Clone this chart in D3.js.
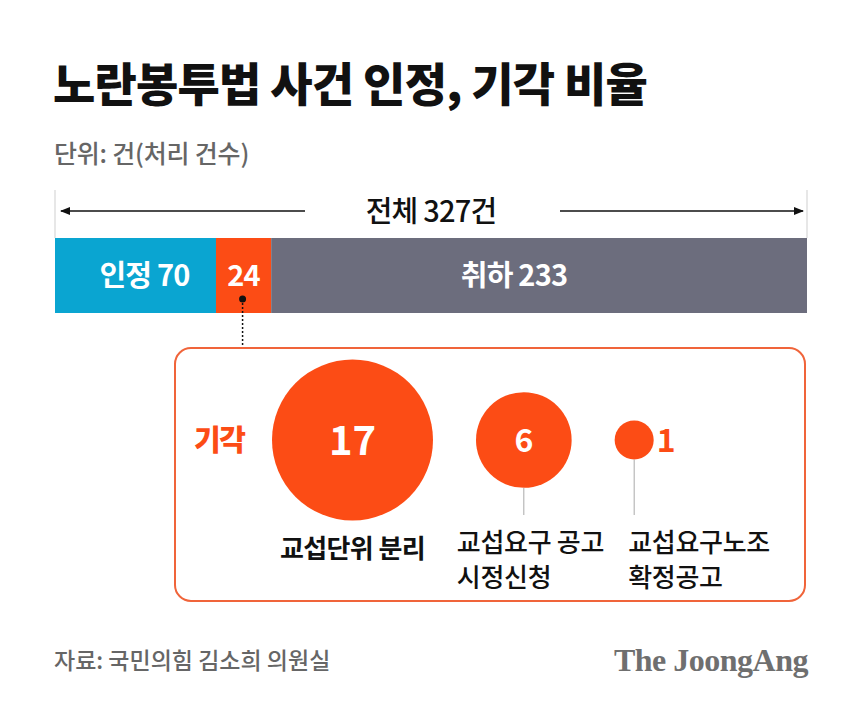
<!DOCTYPE html>
<html>
<head>
<meta charset="utf-8">
<script src="https://cdn.jsdelivr.net/npm/d3@7"></script>
<style>
  body { margin: 0; background: #fff; }
  svg { display: block; font-family: "Noto Sans CJK KR", "Noto Sans", sans-serif; }
</style>
</head>
<body>
<div id="chart"></div>
<script>
// data
const title = "노란봉투법 사건 인정, 기각 비율";
const unitNote = "단위: 건(처리 건수)";
const source = "자료: 국민의힘 김소희 의원실";
const barCategories = ["인정", "", "취하"];
const barValues = [70, 24, 233];
const totalLabel = "전체 327건";
const rejectTitle = "기각";
const rejectValues = [17, 6, 1];
const rejectLabels = [["교섭단위 분리"], ["교섭요구 공고", "시정신청"], ["교섭요구노조", "확정공고"]];

const W = 860, H = 715;
const colors = ["#0aa5d1", "#fc4c15", "#6c6d7d"];
const orange = "#fc4c15";

const svg = d3.select("#chart").append("svg")
    .attr("width", W)
    .attr("height", H);

// title
svg.append("text")
    .attr("x", 53).attr("y", 101)
    .attr("font-size", 46).attr("font-weight", 900)
    .attr("letter-spacing", -0.8)
    .attr("fill", "#111")
    .text(title);

svg.append("text")
    .attr("x", 54).attr("y", 163)
    .attr("font-size", 25).attr("font-weight", 500)
    .attr("letter-spacing", -0.2)
    .attr("fill", "#666")
    .text(unitNote);

// stacked bar
const total = d3.sum(barValues);
const x = d3.scaleLinear().domain([0, total]).range([55, 807]);
const barY = 238, barH = 75;
const stack = barValues.map((v, i) => {
    const start = d3.sum(barValues.slice(0, i));
    return { v, i, x0: x(start), x1: x(start + v) };
});

// end ticks
svg.selectAll("line.end")
    .data([0, total])
    .join("line")
    .attr("x1", d => x(d)).attr("x2", d => x(d))
    .attr("y1", 190).attr("y2", barY)
    .attr("stroke", "#cfcfcf").attr("stroke-width", 1);

// total arrow
const defs = svg.append("defs");
defs.append("marker")
    .attr("id", "arrow")
    .attr("viewBox", "0 0 10 10")
    .attr("refX", 9).attr("refY", 5)
    .attr("markerWidth", 10).attr("markerHeight", 10)
    .attr("markerUnits", "userSpaceOnUse")
    .attr("orient", "auto-start-reverse")
    .append("path")
    .attr("d", "M0,1 L10,5 L0,9 Z")
    .attr("fill", "#111");

const arrowY = 211;
const midX = 431;
svg.append("line")
    .attr("x1", midX - 126).attr("x2", x(0) + 6)
    .attr("y1", arrowY).attr("y2", arrowY)
    .attr("stroke", "#111").attr("stroke-width", 1.5)
    .attr("marker-end", "url(#arrow)");
svg.append("line")
    .attr("x1", midX + 129).attr("x2", x(total) - 4)
    .attr("y1", arrowY).attr("y2", arrowY)
    .attr("stroke", "#111").attr("stroke-width", 1.5)
    .attr("marker-end", "url(#arrow)");
svg.append("text")
    .attr("x", midX).attr("y", arrowY + 11)
    .attr("text-anchor", "middle")
    .attr("font-size", 29).attr("font-weight", 500)
    .attr("letter-spacing", -0.8)
    .attr("fill", "#111")
    .text(totalLabel);

svg.selectAll("rect.seg")
    .data(stack)
    .join("rect")
    .attr("class", "seg")
    .attr("x", d => d.x0).attr("y", barY)
    .attr("width", d => d.x1 - d.x0).attr("height", barH)
    .attr("fill", d => colors[d.i]);

svg.selectAll("text.seg")
    .data(stack)
    .join("text")
    .attr("class", "seg")
    .attr("x", d => (d.x0 + d.x1) / 2 + (d.i === 0 ? 9 : d.i === 2 ? -25 : 0))
    .attr("y", barY + 48)
    .attr("text-anchor", "middle")
    .attr("font-size", 29).attr("font-weight", 700)
    .attr("letter-spacing", -0.8)
    .attr("fill", "#fff")
    .text(d => (barCategories[d.i] ? barCategories[d.i] + " " : "") + d.v);

// connector from rejected segment to the box
const rej = stack[1];
const cx = (rej.x0 + rej.x1) / 2 - 1;
svg.append("circle")
    .attr("cx", cx).attr("cy", 299).attr("r", 3.5)
    .attr("fill", "#111");
svg.append("line")
    .attr("x1", cx).attr("x2", cx)
    .attr("y1", 299).attr("y2", 348)
    .attr("stroke", "#111").attr("stroke-width", 1.5)
    .attr("stroke-dasharray", "2,2");

// box
svg.append("rect")
    .attr("x", 175).attr("y", 348)
    .attr("width", 630).attr("height", 253)
    .attr("rx", 16).attr("ry", 16)
    .attr("fill", "none")
    .attr("stroke", "#f0643a").attr("stroke-width", 2);

svg.append("text")
    .attr("x", 194).attr("y", 451)
    .attr("font-size", 29).attr("font-weight", 900)
    .attr("letter-spacing", -1.5)
    .attr("fill", orange)
    .text(rejectTitle);

// bubbles, area proportional to value
const r = d3.scaleSqrt().domain([0, d3.max(rejectValues)]).range([0, 80.5]);
const cy = 440, gap = 43;
let cursor = 272;
const bubbles = rejectValues.map((v, i) => {
    const rad = r(v);
    const b = { v, i, rad, cx: cursor + rad };
    cursor += 2 * rad + gap;
    return b;
});

svg.selectAll("circle.bubble")
    .data(bubbles)
    .join("circle")
    .attr("class", "bubble")
    .attr("cx", d => d.cx).attr("cy", cy)
    .attr("r", d => d.rad)
    .attr("fill", orange);

// value labels
svg.selectAll("text.val")
    .data(bubbles)
    .join("text")
    .attr("class", "val")
    .attr("x", d => d.rad > 30 ? d.cx : d.cx + d.rad + 3)
    .attr("y", d => cy + (d.rad > 60 ? 15 : 12))
    .attr("text-anchor", d => d.rad > 30 ? "middle" : "start")
    .attr("font-size", d => d.rad > 60 ? 40 : 32)
    .attr("font-weight", 700)
    .attr("fill", d => d.rad > 30 ? "#fff" : orange)
    .text(d => d.v);

// leader lines for the smaller bubbles
svg.selectAll("line.lead")
    .data(bubbles.filter(d => d.i > 0))
    .join("line")
    .attr("class", "lead")
    .attr("x1", d => d.cx).attr("x2", d => d.cx)
    .attr("y1", d => cy + d.rad).attr("y2", 515)
    .attr("stroke", "#aaa").attr("stroke-width", 1);

// category labels
const labelAnchor = [
    { x: d => d.cx, anchor: "middle" },
    { x: d => d.cx - 67, anchor: "start" },
    { x: d => d.cx - 6, anchor: "start" }
];
bubbles.forEach(b => {
    const a = labelAnchor[b.i];
    const firstY = b.i === 0 ? 558 : 552;
    svg.append("g").selectAll("text")
        .data(rejectLabels[b.i])
        .join("text")
        .attr("x", a.x(b))
        .attr("y", (d, j) => firstY + j * 35)
        .attr("text-anchor", a.anchor)
        .attr("font-size", 26)
        .attr("font-weight", b.i === 0 ? 700 : 500)
        .attr("letter-spacing", b.i === 0 ? -0.6 : -0.3)
        .attr("fill", "#111")
        .text(d => d);
});

// footer
svg.append("text")
    .attr("x", 54).attr("y", 669)
    .attr("font-size", 23).attr("font-weight", 500)
    .attr("letter-spacing", 0)
    .attr("fill", "#666")
    .text(source);

svg.append("text")
    .attr("x", 808).attr("y", 671)
    .attr("text-anchor", "end")
    .attr("font-family", "'Liberation Serif', 'DejaVu Serif', serif")
    .attr("font-size", 32).attr("font-weight", 700)
    .attr("letter-spacing", -0.5)
    .attr("fill", "#6f6f6f")
    .text("The JoongAng");
</script>
</body>
</html>
